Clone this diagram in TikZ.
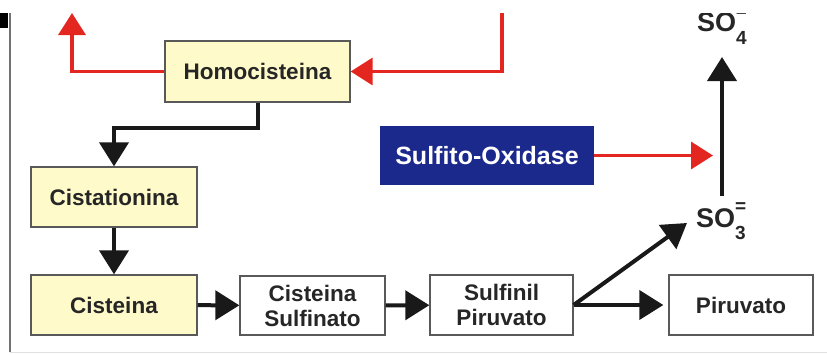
\documentclass[tikz,border=0pt]{standalone}
\usepackage{fontspec}
\setmainfont{Liberation Sans}
\usetikzlibrary{arrows.meta, calc, positioning}
\definecolor{paleyellow}{rgb}{1.00, 0.98, 0.79}
\definecolor{oxidblue}{rgb}{0.11, 0.16, 0.55}
\definecolor{pathred}{rgb}{0.89, 0.15, 0.12}
% sub- and superscript of an ion
\newcommand{\ionsub}[2]{\raisebox{-#1}{\fontsize{19}{19}\selectfont #2}}
\newcommand{\ionsup}[2]{\rlap{\raisebox{#1}{\fontsize{19}{19}\selectfont #2}}}

\begin{document}
\begin{tikzpicture}[x=1pt, y=-1pt, line join=miter,
	box/.style={draw=black!65, line width=1.3pt, inner sep=0pt, align=center,
		text=black!85, font=\fontsize{22.5}{25}\selectfont\bfseries},
	yellowbox/.style={box, fill=paleyellow},
	whitebox/.style={box, fill=white},
	blk/.style={line width=4pt, black!90, -{Triangle[length=24pt,width=29pt]}},
	redarr/.style={line width=3.5pt, pathred, -{Triangle[length=22pt,width=27pt]}},
	ion/.style={inner sep=0pt, text=black!85, font=\fontsize{27}{29}\selectfont\bfseries}]
	\useasboundingbox (0,0) rectangle (827,354);
	\begin{scope}
	\clip (0,13) rectangle (827,354);
	% frame
	\fill[black] (0,13) rectangle (8,28);
	\draw[black!55, line width=1.5pt] (10,13) -- (10,352);
	\draw[black!12, line width=1pt] (10,352) -- (827,352);

	% boxes
	\node[yellowbox, minimum width=185pt, minimum height=61pt] (homo) at (257.5,71.5) {Homocisteina};
	\node[yellowbox, minimum width=166pt, minimum height=60pt] (cista) at (114,197) {Cistationina};
	\node[yellowbox, minimum width=166pt, minimum height=60pt] (cist) at (114,305) {Cisteina};
	\node[whitebox, minimum width=145pt, minimum height=59pt] (sulfinato) at (312.5,305.5) {Cisteina\\Sulfinato};
	\node[whitebox, minimum width=143pt, minimum height=60pt] (sulfinil) at (501.5,305) {Sulfinil\\Piruvato};
	\node[whitebox, minimum width=144pt, minimum height=60pt] (piruv) at (741,305) {Piruvato};
	\node[fill=oxidblue, minimum width=214pt, minimum height=59pt, inner sep=0pt, text=white,
		font=\fontsize{25}{28}\selectfont\bfseries] (oxid) at (487,155.5) {Sulfito-Oxidase};

	% ions
	\node[ion, anchor=base west] (so3) at (696,227) {SO\ionsup{15pt}{=}\ionsub{12pt}{3}};
	\node[ion, anchor=base west] (so4) at (697,31) {SO\ionsup{13pt}{--}\ionsub{13pt}{4}};
	\coordinate (upL) at (72,13);
	\coordinate (downR) at (502,13);
	\coordinate (baseV) at (722,196);
	\coordinate (tipV) at (722,57);
	\coordinate (tipD) at (687,223);
	\coordinate (tipOx) at (713,155.5);

	% red paths
	\draw[redarr] (homo.west) -| (upL);
	\draw[redarr] (downR) |- (homo.east);
	\draw[redarr] (oxid.east) -- (tipOx);

	% black paths
	\draw[blk] (homo.south) -- ++(0,25) -| (cista.north);
	\draw[blk] (cista) -- (cist);
	\draw[blk] (cist) -- (sulfinato);
	\draw[blk] (sulfinato) -- (sulfinil);
	\draw[blk, shorten >=5pt] (sulfinil) -- (piruv);
	\draw[blk] (sulfinil.east) -- (tipD);
	\draw[blk] (baseV) -- (tipV);
	\end{scope}
\end{tikzpicture}
\end{document}
